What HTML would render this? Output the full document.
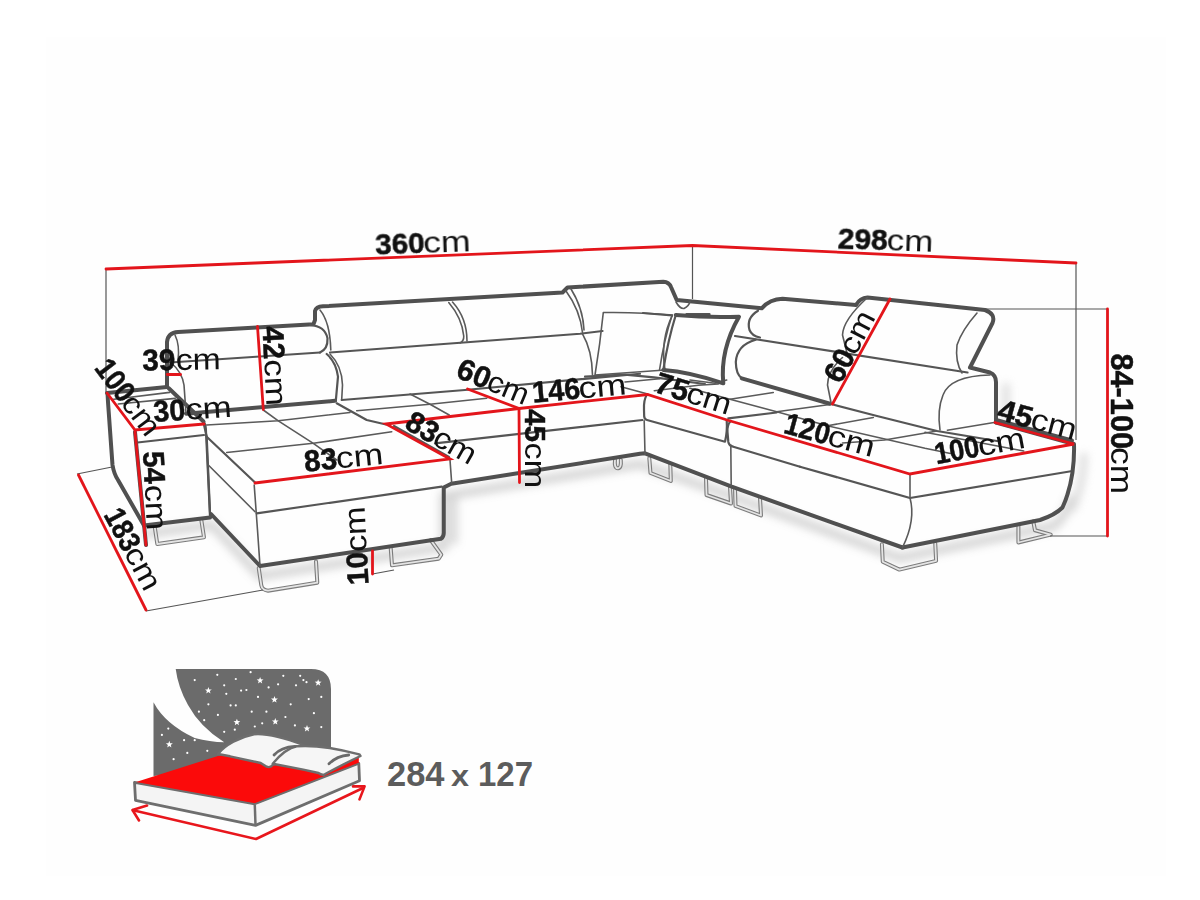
<!DOCTYPE html>
<html><head><meta charset="utf-8">
<style>
html,body{margin:0;padding:0;background:#fff;}
svg{display:block;}
.k{fill:none;stroke:#505050;stroke-width:4;stroke-linejoin:round;stroke-linecap:round;}
.t{fill:none;stroke:#5a5a5a;stroke-width:1.6;stroke-linejoin:round;stroke-linecap:round;}
.m{fill:none;stroke:#555;stroke-width:2.2;stroke-linejoin:round;stroke-linecap:round;}
.r{fill:none;stroke:#e3151b;stroke-width:2.8;stroke-linecap:round;}
.d{fill:none;stroke:#555;stroke-width:1.2;}
.g{fill:none;stroke:#7c7c7c;stroke-width:4;stroke-linejoin:round;stroke-linecap:round;}
.g2{fill:none;stroke:#e4e4e4;stroke-width:1.8;stroke-linejoin:round;stroke-linecap:round;}
text{font-family:"Liberation Sans",sans-serif;fill:#111;}
.b{font-weight:bold;}
</style></head>
<body>
<svg width="1200" height="900" viewBox="0 0 1200 900">
<defs><filter id="blur" x="-10%" y="-50%" width="120%" height="200%"><feGaussianBlur stdDeviation="4"/></filter></defs>
<rect width="1200" height="900" fill="#fff"/>
<rect x="46" y="37" width="1120" height="839" fill="#fefefe"/>
<g id="sofa">
<g filter="url(#blur)" opacity="0.4">
<path d="M144,528 L212,519 L260,570 L444,541 L444,490 L640,458 L731,490 L900,552 L1054,520 Q1066,510 1072,490" fill="none" stroke="#9a9a9a" stroke-width="9" transform="translate(0,6)"/>
<path d="M448,490 L448,540" fill="none" stroke="#9a9a9a" stroke-width="7" transform="translate(6,4)"/>
<path d="M1000,380 L1000,420 M1078,450 Q1078,480 1066,508" fill="none" stroke="#aaa" stroke-width="7" transform="translate(6,3)"/>
</g>
<path class="g" d="M154.7,526.7 L157.3,544 L204,537.3 L201.3,520"/><path class="g2" d="M154.7,526.7 L157.3,544 L204,537.3 L201.3,520"/>
<path class="g" d="M258.7,568 L261.3,585.3 Q262,590 268,590.7 L317.3,582.7 L316,561.3"/><path class="g2" d="M258.7,568 L261.3,585.3 Q262,590 268,590.7 L317.3,582.7 L316,561.3"/>
<path class="g" d="M390.7,548 L392,565.3 L438.7,558.7 L441.3,554.7 L430.7,540"/><path class="g2" d="M390.7,548 L392,565.3 L438.7,558.7 L441.3,554.7 L430.7,540"/>
<path class="g" d="M649.3,458.2 L650.5,473 L670.8,481 L670.3,464"/><path class="g2" d="M649.3,458.2 L650.5,473 L670.8,481 L670.3,464"/>
<path class="g" d="M706,478 L706.5,495 L731,503.5 L730,487"/><path class="g2" d="M706,478 L706.5,495 L731,503.5 L730,487"/>
<path class="g" d="M735,488.5 L735.5,506 L761,515.5 L760,497.8"/><path class="g2" d="M735,488.5 L735.5,506 L761,515.5 L760,497.8"/>
<path class="g" d="M881.9,544.25 L882.75,561.75 L899.4,569.6 L936.1,560.9 L935.25,543.4"/><path class="g2" d="M881.9,544.25 L882.75,561.75 L899.4,569.6 L936.1,560.9 L935.25,543.4"/>
<path class="g" d="M1018.4,525 L1018.4,542.5 L1050.75,534.6 L1035,530.25 L1033.25,521.5"/><path class="g2" d="M1018.4,525 L1018.4,542.5 L1050.75,534.6 L1035,530.25 L1033.25,521.5"/>
<path class="g" d="M615,460 Q614,468 618,468.3 Q621.5,468 620.8,460"/><path class="g2" d="M615,460 Q614,468 618,468.3 Q621.5,468 620.8,460"/>
<!-- LEFT ARM -->
<path class="k" d="M107,393 L167,387"/>
<path class="k" d="M107.5,393 L108,402 L112.5,465 Q114,474 118,480 L144,525.5 L210,517.5"/>
<path class="t" d="M112,399.5 L169.7,392.4 M118.3,404 L175.2,398.4"/>
<path class="k" d="M168.5,388 L203.5,421.5"/>
<path class="m" d="M137.5,442.5 L204,435"/>
<path class="m" d="M204,422 Q206,425 206,432 L210,516"/>
<path class="k" d="M135,432 L146,545"/>
<!-- LEFT BACK / OUTER BACK LINE -->
<path class="k" d="M167,387 L167,342 Q168,332.5 178,332 L313.5,324.2 L315,320 L315,311 Q316,306.8 323,306.3 L562.5,292.5 L567.5,287.5 L663.3,281.7 Q669,282 671,287 L676.7,300 L761.7,308.3 Q770,299 782.5,298.75 L856,305 Q860,298 867.5,297.5 L985,310 Q996,314 992.5,323 L970,367.5 L990,372.5 Q996,375 996,382 L996,422.5"/>
<!-- left headrest -->
<path class="t" d="M175,335 Q180,345 178,361"/>
<path class="m" d="M170,362.5 L320,352.5"/>
<path class="m" d="M310,325 Q325,326 327.5,338.3 Q328,349 320,352.5"/>
<path class="t" d="M171.3,363 Q182,372 184,385 L186,413"/>
<path class="k" d="M186,413.7 L335,400.8"/>
<path class="m" d="M326.7,354 Q336,362 338,376.7 L335.8,400.8"/>
<!-- H1,H2,H3 headrests -->
<path class="t" d="M320,310 Q330,322 330.8,350"/>
<path class="m" d="M330,352.5 L463.75,342.5 L580,333.75 L602.5,331"/>
<path class="t" d="M330,354 Q342,366 342.5,385 L341.7,400"/>
<path class="t" d="M448.75,302.5 Q462,318 463.75,336 Q464,341 460,343 M452.5,302 Q467,318 467,341"/>
<path class="t" d="M566,291 Q580,310 582.5,332.5"/>
<path class="t" d="M571,289 Q583,308 584,330"/>
<path class="t" d="M582.5,334 Q592,350 592.5,375"/>
<path class="m" d="M341.7,400 L465,390 L640,373.75"/>
<!-- middle seat top seams -->
<path class="t" d="M206.7,425 L278.3,420.8 L350,412.5"/>
<path class="t" d="M263.3,410 L278.3,420.8 L313.3,443.3 L336.7,460"/>
<path class="t" d="M226.7,452.5 L313.3,443.3 L391.7,431.7"/>
<path class="m" d="M336.7,403.3 L366.7,420 L386,424.5"/>
<path class="t" d="M410,394 L430,404.2 L449.2,415"/>
<path class="t" d="M356.7,410.8 L430,404.2 L486.7,398.3"/>
<path class="m" d="M394,426 L449,457"/>
<!-- CHAISE -->
<path class="m" d="M203.3,421.7 L206.7,436.7 L255.6,483"/>
<path class="m" d="M206.7,436.7 L210,512.5"/>
<path class="k" d="M211,514 L260,566 L441,538.75 Q444,537 443.75,532 L443.75,487.5 L451.25,483.75 L640,453.75 L645,453.3 L731.7,486.7 L902.5,547.5"/>
<path class="t" d="M254.2,485 L257.5,530 L260,566"/>
<path class="t" d="M208.3,465 L255,511.7"/>
<path class="m" d="M256.7,513.3 L441.7,486.7"/>
<path class="t" d="M450,460 L451.7,483"/>
<path class="d" d="M372.5,574 L394,570"/>
<!-- middle seat front -->
<path class="m" d="M435,443.3 L642.5,420"/>
<!-- CORNER -->
<path class="m" d="M646.7,395 Q643.5,400 644,410 L644.2,416.7 Q644.5,419.5 647,420 L725,441.7 Q727.5,432 726.7,420"/>
<path class="t" d="M644.2,420.8 L645,454.2"/>
<path class="m" d="M730.8,420.8 Q727,425 727.5,432 L728.3,441.7 Q729,446 733.3,446.7 L800,466.7"/>
<path class="t" d="M730.8,445 L731.2,485.5"/>
<path class="m" d="M585,376.7 L625,374.7 L654,377.3 L705,384"/>
<path class="t" d="M621,386.7 L647.7,394 M625,382 L659.7,378.7 M654.3,390.7 L698.3,385.3 L718.3,384"/>
<path class="t" d="M690,388.3 L730,399.2 L776.7,411.7 L827.5,425.8 L875,436.7 L925,448.3 L951.7,453.7"/>
<path class="t" d="M730,399.2 L773.3,392.5 M776.7,411.7 L831.7,404.2 M827.5,425.8 L873.3,417.5 M925,432.3 L1023.7,451"/>
<path class="m" d="M728.3,418.3 L776.7,412.5"/>
<path class="t" d="M690,380 L715,383.3 L726.7,380"/>
<!-- pillows -->
<path class="t" d="M603.3,312.5 Q640,312 672.5,315 Q660,340 665,370 L595,375 Q600,345 603.3,312.5"/>
<path class="m" d="M643,313 L672,315.5 M686.5,314.2 L709.5,314.2 L709.5,317"/>
<path class="t" d="M676,302 Q680,309 684,308.5 Q689,306 690,301.5"/>
<path class="k" d="M663.3,370 Q690,372 723.3,383.3 Q720,350 739,316.7 Q710,318 675.8,315"/>
<path class="m" d="M675.8,315 Q668,340 663.3,370"/>
<path class="t" d="M672,315.5 Q664,340 659.5,370"/>
<!-- RIGHT BACK -->
<path class="m" d="M758,310.7 Q746,318 749.5,330 Q752,336 760,337.5"/>
<path class="m" d="M735,336 L967.5,372.5"/>
<path class="m" d="M755.7,339.8 Q737,345 735.8,362 Q736,374 741.7,378.3"/>
<path class="k" d="M741.7,378.3 L830,403.75"/>
<path class="t" d="M977,313 Q962,330 957,345 Q955,362 962,373"/>
<path class="t" d="M867.5,297.5 Q843,320 842.5,335 L847.5,355"/>
<path class="t" d="M842.5,357.5 Q828,370 827.5,385 L831,402.5"/>
<path class="m" d="M831,404 L877,416 L937,431 L997,441"/>
<path class="t" d="M990,375 Q950,376 943,395 Q937,410 940,430"/>
<path class="t" d="M947.4,430.2 L994,422.5 M884.5,440 L937,431 M842.5,443 L884.5,440"/>
<!-- RIGHT SEAT -->
<path class="k" d="M996,420 L1072,440.5"/>
<path class="m" d="M800,466.7 L910,498 L1072.5,471"/>
<path class="t" d="M910,474 L910,498"/>
<path class="k" d="M996,422.5 L1074,444 Q1075,480 1062.5,507.5 Q1055,515 1040,520 L902.5,547.5"/>
<path class="t" d="M910,498 Q916,520 902.5,547.5"/>
<!-- shadow under right -->
</g>
<g id="dims">
<path class="d" d="M106,269 V393 M692.5,246 V299 M1076,263 V440 M985,309 H1107.5 M1050,536 H1107.5 M77,474 L112,467 M146,611 L263,590"/>
<path class="r" d="M106,269 L692.5,245.5 L1076,263"/>
<path class="r" d="M1107.5,309 V536"/>
<path class="r" d="M107,393 L135,430 L204,424"/>
<path class="r" d="M135,432 L146,545"/>
<path class="r" d="M78.5,475 L146,610"/>
<path class="r" d="M167.3,374.5 L180.5,374.5"/>
<path class="r" d="M257.5,326.5 L263.3,409.5"/>
<path class="r" d="M255,483 L450,459 L386,424 L519,408.5 L647.5,394.5 L727,420 L910,474 L1074,444 L995,422.5"/>
<path class="r" d="M467.5,389 L519,408.5 L519.5,482.5"/>
<path class="r" d="M890,299 L832.5,404"/>
<path class="r" d="M372.5,551 V574"/>
</g>
<g id="texts">
<g transform="translate(377,254.5) rotate(-2)"><text x="-1.5" y="0" class="b" stroke="#111" stroke-width="0.5" font-size="30" textLength="49.5" lengthAdjust="spacingAndGlyphs">360</text><text x="46.5" y="0" font-size="30" textLength="47.5" lengthAdjust="spacingAndGlyphs">cm</text></g>
<g transform="translate(839,248.5) rotate(2)"><text x="-1.5" y="0" class="b" stroke="#111" stroke-width="0.5" font-size="30" textLength="50" lengthAdjust="spacingAndGlyphs">298</text><text x="47.5" y="0" font-size="30" textLength="46.5" lengthAdjust="spacingAndGlyphs">cm</text></g>
<g transform="translate(144,370.5) rotate(-1)"><text x="-1.5" y="0" class="b" stroke="#111" stroke-width="0.5" font-size="30" textLength="33" lengthAdjust="spacingAndGlyphs">39</text><text x="32.0" y="0" font-size="30" textLength="45.0" lengthAdjust="spacingAndGlyphs">cm</text></g>
<g transform="translate(262.5,328.3) rotate(87)"><text x="-1.5" y="0" class="b" stroke="#111" stroke-width="0.5" font-size="30" textLength="33" lengthAdjust="spacingAndGlyphs">42</text><text x="31.5" y="0" font-size="30" textLength="46.5" lengthAdjust="spacingAndGlyphs">cm</text></g>
<g transform="translate(94.5,369.5) rotate(53)"><text x="-1.5" y="0" class="b" stroke="#111" stroke-width="0.5" font-size="30" textLength="45" lengthAdjust="spacingAndGlyphs">100</text><text x="42.5" y="0" font-size="30" textLength="43.5" lengthAdjust="spacingAndGlyphs">cm</text></g>
<g transform="translate(155.5,422) rotate(-4)"><text x="-1.5" y="0" class="b" stroke="#111" stroke-width="0.5" font-size="30" textLength="32" lengthAdjust="spacingAndGlyphs">30</text><text x="30.5" y="0" font-size="30" textLength="46.5" lengthAdjust="spacingAndGlyphs">cm</text></g>
<g transform="translate(143,453.3) rotate(87)"><text x="-1.5" y="0" class="b" stroke="#111" stroke-width="0.5" font-size="30" textLength="32.5" lengthAdjust="spacingAndGlyphs">54</text><text x="32.0" y="0" font-size="30" textLength="45.5" lengthAdjust="spacingAndGlyphs">cm</text></g>
<g transform="translate(104,516) rotate(62)"><text x="-1.5" y="0" class="b" stroke="#111" stroke-width="0.5" font-size="30" textLength="44" lengthAdjust="spacingAndGlyphs">183</text><text x="41.5" y="0" font-size="30" textLength="45.5" lengthAdjust="spacingAndGlyphs">cm</text></g>
<g transform="translate(306.5,471.5) rotate(-5.5)"><text x="-1.5" y="0" class="b" stroke="#111" stroke-width="0.5" font-size="30" textLength="33" lengthAdjust="spacingAndGlyphs">83</text><text x="30.5" y="0" font-size="30" textLength="47.5" lengthAdjust="spacingAndGlyphs">cm</text></g>
<g transform="translate(404.5,428.5) rotate(29.5)"><text x="-1.5" y="0" class="b" stroke="#111" stroke-width="0.5" font-size="30" textLength="33" lengthAdjust="spacingAndGlyphs">83</text><text x="30.5" y="0" font-size="30" textLength="44.5" lengthAdjust="spacingAndGlyphs">cm</text></g>
<g transform="translate(456,377) rotate(22.5)"><text x="-1.5" y="0" class="b" stroke="#111" stroke-width="0.5" font-size="30" textLength="34" lengthAdjust="spacingAndGlyphs">60</text><text x="31.5" y="0" font-size="30" textLength="42.5" lengthAdjust="spacingAndGlyphs">cm</text></g>
<g transform="translate(534.5,402.5) rotate(-5)"><text x="-1.5" y="0" class="b" stroke="#111" stroke-width="0.5" font-size="30" textLength="48" lengthAdjust="spacingAndGlyphs">146</text><text x="45.0" y="0" font-size="30" textLength="48.0" lengthAdjust="spacingAndGlyphs">cm</text></g>
<g transform="translate(524.5,410.6) rotate(90)"><text x="-1.5" y="0" class="b" stroke="#111" stroke-width="0.5" font-size="30" textLength="33" lengthAdjust="spacingAndGlyphs">45</text><text x="32.0" y="0" font-size="30" textLength="45.5" lengthAdjust="spacingAndGlyphs">cm</text></g>
<g transform="translate(654.5,392) rotate(17.5)"><text x="-1.5" y="0" class="b" stroke="#111" stroke-width="0.5" font-size="30" textLength="34" lengthAdjust="spacingAndGlyphs">75</text><text x="31.5" y="0" font-size="30" textLength="45.5" lengthAdjust="spacingAndGlyphs">cm</text></g>
<g transform="translate(841.5,383.5) rotate(-62.5)"><text x="-1.5" y="0" class="b" stroke="#111" stroke-width="0.5" font-size="30" textLength="33" lengthAdjust="spacingAndGlyphs">60</text><text x="30.5" y="0" font-size="30" textLength="44.5" lengthAdjust="spacingAndGlyphs">cm</text></g>
<g transform="translate(784,433) rotate(15.3)"><text x="-1.5" y="0" class="b" stroke="#111" stroke-width="0.5" font-size="30" textLength="46" lengthAdjust="spacingAndGlyphs">120</text><text x="43.5" y="0" font-size="30" textLength="47.5" lengthAdjust="spacingAndGlyphs">cm</text></g>
<g transform="translate(938,464) rotate(-10.6)"><text x="-1.5" y="0" class="b" stroke="#111" stroke-width="0.5" font-size="30" textLength="45" lengthAdjust="spacingAndGlyphs">100</text><text x="42.5" y="0" font-size="30" textLength="47.5" lengthAdjust="spacingAndGlyphs">cm</text></g>
<g transform="translate(997.5,419.5) rotate(15)"><text x="-1.5" y="0" class="b" stroke="#111" stroke-width="0.5" font-size="30" textLength="35" lengthAdjust="spacingAndGlyphs">45</text><text x="32.5" y="0" font-size="30" textLength="46.5" lengthAdjust="spacingAndGlyphs">cm</text></g>
<g transform="translate(1110.5,355) rotate(90)"><text x="-1.5" y="0" class="b" stroke="#111" stroke-width="0.5" font-size="32" textLength="95.5" lengthAdjust="spacingAndGlyphs">84-100</text><text x="92.0" y="0" font-size="32" textLength="47.1" lengthAdjust="spacingAndGlyphs">cm</text></g>
<g transform="translate(368.5,583) rotate(-93)"><text x="-1.5" y="0" class="b" stroke="#111" stroke-width="0.5" font-size="30" textLength="33" lengthAdjust="spacingAndGlyphs">10</text><text x="31.5" y="0" font-size="30" textLength="45.5" lengthAdjust="spacingAndGlyphs">cm</text></g>
</g>
<g id="bed">
<path d="M175.7,668.9 L311,668.9 Q331,669 331,689 L331,760 L153.5,776 L153.5,702.2 Q165,724 194.7,738 Q210,742 224.2,742.3 Q200,727 188,705 Q178,687 175.7,668.9 Z" fill="#6b6b6b"/>
<polygon points="208.4,687.0 209.3,689.4 211.8,689.5 209.8,691.1 210.5,693.5 208.4,692.1 206.3,693.5 206.9,691.1 205.0,689.5 207.5,689.4" fill="#fff"/>
<polygon points="260.1,676.9 261.0,679.3 263.5,679.4 261.5,680.9 262.2,683.4 260.1,682.0 258.0,683.4 258.7,680.9 256.7,679.4 259.2,679.3" fill="#fff"/>
<polygon points="318.2,679.2 319.0,681.6 321.6,681.7 319.6,683.3 320.3,685.7 318.2,684.3 316.0,685.7 316.7,683.3 314.7,681.7 317.3,681.6" fill="#fff"/>
<polygon points="274.5,696.1 275.4,698.5 277.9,698.6 275.9,700.2 276.6,702.6 274.5,701.2 272.3,702.6 273.0,700.2 271.0,698.6 273.6,698.5" fill="#fff"/>
<polygon points="236.9,718.7 237.8,721.1 240.3,721.2 238.3,722.7 239.0,725.2 236.9,723.8 234.8,725.2 235.4,722.7 233.5,721.2 236.0,721.1" fill="#fff"/>
<polygon points="275.3,718.0 276.2,720.4 278.7,720.5 276.7,722.1 277.4,724.6 275.3,723.2 273.2,724.6 273.9,722.1 271.9,720.5 274.4,720.4" fill="#fff"/>
<polygon points="307.0,725.0 307.9,727.4 310.4,727.5 308.4,729.1 309.1,731.5 307.0,730.1 304.9,731.5 305.5,729.1 303.5,727.5 306.1,727.4" fill="#fff"/>
<polygon points="169.3,740.8 170.2,743.2 172.8,743.3 170.8,744.9 171.4,747.4 169.3,746.0 167.2,747.4 167.9,744.9 165.9,743.3 168.4,743.2" fill="#fff"/>
<circle cx="194.7" cy="680.1" r="1.1" fill="#fff"/>
<circle cx="217.3" cy="674.8" r="1.1" fill="#fff"/>
<circle cx="224.2" cy="685.3" r="1.1" fill="#fff"/>
<circle cx="226.3" cy="693.8" r="1.1" fill="#fff"/>
<circle cx="241.1" cy="690.6" r="1.1" fill="#fff"/>
<circle cx="246.4" cy="690.0" r="1.1" fill="#fff"/>
<circle cx="235.8" cy="679.0" r="1.1" fill="#fff"/>
<circle cx="250.6" cy="672.2" r="1.1" fill="#fff"/>
<circle cx="283.3" cy="675.8" r="1.1" fill="#fff"/>
<circle cx="300.2" cy="675.8" r="1.1" fill="#fff"/>
<circle cx="296.0" cy="685.3" r="1.1" fill="#fff"/>
<circle cx="278.1" cy="684.3" r="1.1" fill="#fff"/>
<circle cx="268.6" cy="687.4" r="1.1" fill="#fff"/>
<circle cx="308.7" cy="699.1" r="1.1" fill="#fff"/>
<circle cx="321.3" cy="696.9" r="1.1" fill="#fff"/>
<circle cx="258.0" cy="696.9" r="1.1" fill="#fff"/>
<circle cx="230.6" cy="705.4" r="1.1" fill="#fff"/>
<circle cx="235.8" cy="705.4" r="1.1" fill="#fff"/>
<circle cx="208.4" cy="704.3" r="1.1" fill="#fff"/>
<circle cx="217.9" cy="714.9" r="1.1" fill="#fff"/>
<circle cx="198.9" cy="711.7" r="1.1" fill="#fff"/>
<circle cx="204.2" cy="720.2" r="1.1" fill="#fff"/>
<circle cx="251.7" cy="711.7" r="1.1" fill="#fff"/>
<circle cx="266.4" cy="711.7" r="1.1" fill="#fff"/>
<circle cx="290.7" cy="704.3" r="1.1" fill="#fff"/>
<circle cx="313.9" cy="713.2" r="1.1" fill="#fff"/>
<circle cx="254.8" cy="726.5" r="1.1" fill="#fff"/>
<circle cx="294.9" cy="725.4" r="1.1" fill="#fff"/>
<circle cx="321.3" cy="727.1" r="1.1" fill="#fff"/>
<circle cx="184.1" cy="740.2" r="1.1" fill="#fff"/>
<circle cx="194.7" cy="740.2" r="1.1" fill="#fff"/>
<circle cx="207.3" cy="750.8" r="1.1" fill="#fff"/>
<circle cx="187.3" cy="752.9" r="1.1" fill="#fff"/>
<circle cx="161.9" cy="734.9" r="1.1" fill="#fff"/>
<circle cx="168.3" cy="728.6" r="1.1" fill="#fff"/>
<circle cx="173.6" cy="759.2" r="1.1" fill="#fff"/>
<circle cx="224.2" cy="731.8" r="1.1" fill="#fff"/>
<circle cx="234.8" cy="729.7" r="1.1" fill="#fff"/>
<circle cx="262.2" cy="723.3" r="1.1" fill="#fff"/>
<circle cx="285.4" cy="717.0" r="1.1" fill="#fff"/>
<circle cx="303.4" cy="680.1" r="1.1" fill="#fff"/>
<circle cx="306.5" cy="682.2" r="1.1" fill="#fff"/>
<!-- base + arrows -->
<path d="M132,810 L256,839 L363,788" fill="none" stroke="#e8161c" stroke-width="2.6" stroke-linejoin="round"/>
<path d="M147,805.5 L132.5,810 L139,820.5 M353,786.4 L364.6,786.4 L359.5,799.4" fill="none" stroke="#e8161c" stroke-width="2.6" stroke-linejoin="round" stroke-linecap="round"/>
<!-- mattress faces -->
<path d="M134.5,782.4 L135.5,800.4 L255.5,825.4 L359.5,780.7 L358.8,763.3 L254.8,803.8 Z" fill="#f4f4f4" stroke="#6e6e6e" stroke-width="2.8" stroke-linejoin="round"/>
<path d="M254.8,805 L255.5,825" stroke="#6e6e6e" stroke-width="2.5" fill="none"/>
<!-- red top -->
<path d="M134.5,782.4 L217.9,756 L232,754 L275,758 L318.3,766 L358.8,756 L358.8,763.3 L254.8,803.8 Z" fill="#fb0a0a"/>
<path d="M134.5,782.4 L254.8,803.8 L358.8,763.3" fill="none" stroke="#6e6e6e" stroke-width="1.2"/>
<!-- pillows -->
<path d="M218,754 C225,745 240,737 254,734.3 C268,733 290,740 303.3,745 L300,758 L279.3,762.3 L272.7,765 Q270,768 266.7,766.7 L260.7,763 L230,756.3 Z" fill="#f6f6f6" stroke="#6e6e6e" stroke-width="2.4" stroke-linejoin="round"/>
<path d="M272.7,763.7 C280,755 288,748 296.7,746.3 C312,745 335,748 359.3,754.3 L360.5,756 C352,760 340,766 324.7,774.3 Q322,775.5 318.5,773 L303.3,769.7 Z" fill="#f6f6f6" stroke="#6e6e6e" stroke-width="2.4" stroke-linejoin="round"/>
<path d="M274,755 Q281,747 295,746.3" fill="none" stroke="#6a6a6a" stroke-width="2.8" stroke-linecap="round"/>
<path d="M329,763.7 Q337,756 348.7,755" fill="none" stroke="#6a6a6a" stroke-width="2.8" stroke-linecap="round"/>
<text x="387" y="785.7" font-size="34.5" font-weight="bold" style="fill:#5c5c5c" textLength="57.5" lengthAdjust="spacingAndGlyphs">284</text>
<text x="451" y="785.7" font-size="30" font-weight="bold" style="fill:#5c5c5c" textLength="18" lengthAdjust="spacingAndGlyphs">x</text>
<text x="478" y="785.7" font-size="34.5" font-weight="bold" style="fill:#5c5c5c" textLength="55" lengthAdjust="spacingAndGlyphs">127</text>
</g>
</svg>
</body></html>
